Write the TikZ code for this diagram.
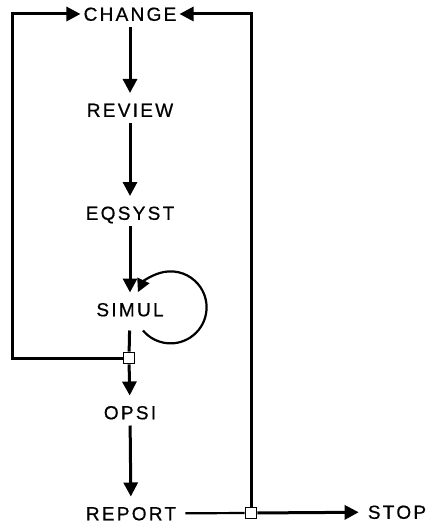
\documentclass[tikz,border=0pt]{standalone}
\usepackage{fontspec}
\newfontfamily\progfont[LetterSpace=12,FakeBold=0.6]{Liberation Sans}
\usetikzlibrary{arrows.meta}

\begin{document}
\begin{tikzpicture}[
    x=1pt, y=-1pt,
    prog/.style={font=\progfont\fontsize{19}{21}\selectfont, inner xsep=3pt, inner ysep=6pt,
        text height=13.6pt, text depth=0pt},
    flow/.style={-{Triangle[length=14pt,width=14pt]}, line width=3pt, shorten >=4pt},
    wire/.style={line width=3pt},
    junct/.style={draw, fill=white, line width=1.6pt, minimum size=11pt, inner sep=0pt}
    ]
    \useasboundingbox (0,0) rectangle (427,524);

    \node[prog] (CHANGE) at (130,14) {CHANGE};
    \node[prog] (REVIEW) at (130,110) {REVIEW};
    \node[prog] (EQSYST) at (130,213) {EQSYST};
    \node[prog] (SIMUL) at (130,309.5) {SIMUL};
    \node[prog] (OPSI) at (130,412.5) {OPSI};
    \node[prog] (REPORT) at (131,513.5) {REPORT};
    \node[prog] (STOP) at (397,512) {STOP};

    \node[junct] (jA) at (129,358) {};
    \node[junct] (jB) at (251,513) {};
    \coordinate (cl) at (12,358);
    \coordinate (cr) at (251,14);

    \draw[flow] (CHANGE) -- (REVIEW);
    \draw[flow] (REVIEW) -- (EQSYST);
    \draw[flow] (EQSYST) -- (SIMUL);
    \draw[wire, shorten <=8pt] (SIMUL) -- (jA);
    \draw[flow] (jA) -- (OPSI);
    \draw[flow] (OPSI) -- (REPORT);

    % loop on SIMUL
    \coordinate (loopS) at ([shift={(13,21)}]SIMUL.center);
    \draw[-{Triangle[length=13pt,width=13pt]}, line width=2.2pt]
        (loopS) arc[start angle=140, end angle=-155, radius=36];

    % back to CHANGE
    \draw[flow, shorten >=0pt] (jA) -- (cl) |- (CHANGE);
    \draw[flow, shorten >=0pt] (jB) -- (cr) -- (CHANGE);
    \draw[line width=2.2pt, shorten <=6pt] (REPORT) -- (jB);
    \draw[flow, shorten >=6pt] (jB) -- (STOP);

\end{tikzpicture}
\end{document}
